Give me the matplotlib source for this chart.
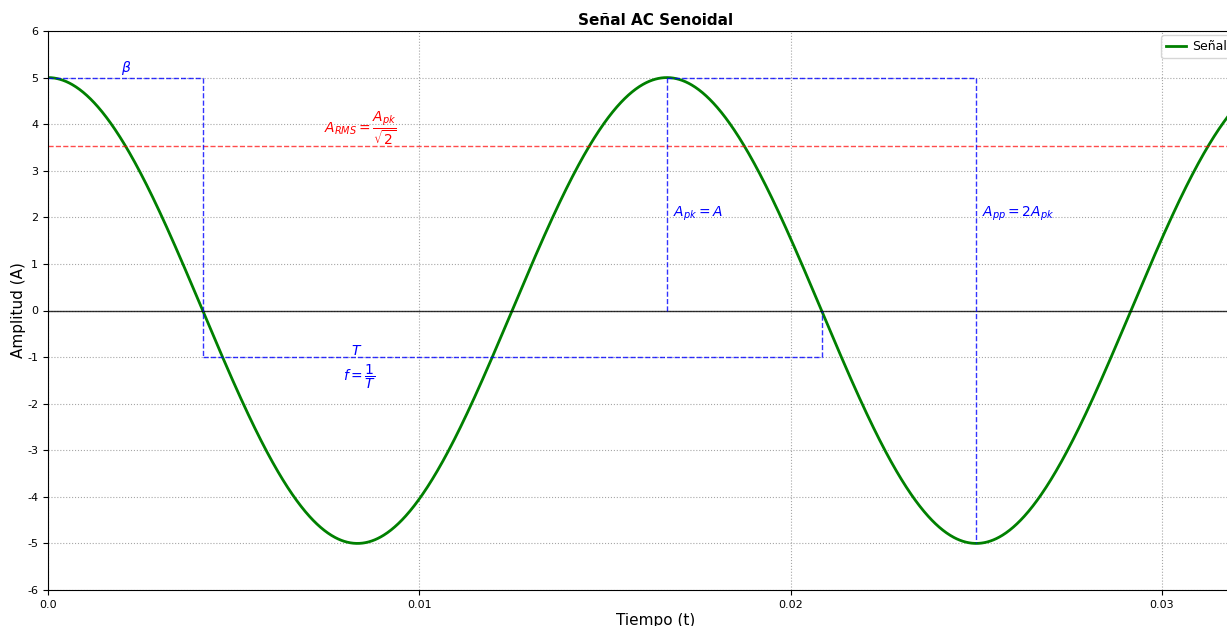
import numpy as np
import matplotlib.pyplot as plt

# Parametros de la senal
amplitud = 5.0          # A_pk
frecuencia = 60.0       # Hz -> T = 1/60 s
t_fin = 0.03275

x_ticks = [0.0, 0.01, 0.02, 0.03]
x_tick_labels = ['0.0', '0.01', '0.02', '0.03']
y_ticks = list(range(-6, 7))
y_tick_labels = [str(v) for v in y_ticks]

periodo = 1 / frecuencia
a_rms = amplitud / np.sqrt(2)

t = np.linspace(0, t_fin, 2000)
senal = amplitud * np.cos(2 * np.pi * frecuencia * t)

fig = plt.figure(figsize=(12.27, 6.26), dpi=100)
ancho_px = t_fin * 37130
ax = fig.add_axes([48 / 1227, 1 - 590 / 626, ancho_px / 1227, 559 / 626])

ax.plot(t, senal, color='green', linewidth=2, label='Señal')
ax.axhline(0, color='black', linewidth=1, alpha=0.8)
ax.axhline(a_rms, color='red', linestyle='--', linewidth=1, alpha=0.7)

# Lineas de referencia (beta, periodo, pico, pico a pico)
t_beta = periodo / 4
estilo = dict(color='blue', linestyle='--', linewidth=1, alpha=0.8)
ax.plot([0, t_beta], [amplitud, amplitud], **estilo)
ax.plot([t_beta, t_beta], [amplitud, -1], **estilo)
ax.plot([t_beta, t_beta + periodo], [-1, -1], **estilo)
ax.plot([t_beta + periodo, t_beta + periodo], [-1, 0], **estilo)
ax.plot([periodo, periodo], [0, amplitud], **estilo)
ax.plot([periodo, 1.5 * periodo], [amplitud, amplitud], **estilo)
ax.plot([1.5 * periodo, 1.5 * periodo], [amplitud, -amplitud], **estilo)

ax.text(0.0021, 5.2, r'$\beta$', color='blue', fontsize=10, ha='center', va='center')
ax.text(0.00744, 3.92, r'$A_{RMS} = \dfrac{A_{pk}}{\sqrt{2}}$', color='red', fontsize=10, va='center')
ax.text(0.00832, -0.86, r'$T$', color='blue', fontsize=10, ha='center', va='center')
ax.text(0.00795, -1.43, r'$f = \dfrac{1}{T}$', color='blue', fontsize=10, va='center')
ax.text(0.01682, 2.07, r'$A_{pk} = A$', color='blue', fontsize=10, va='center')
ax.text(0.02516, 2.07, r'$A_{pp} = 2A_{pk}$', color='blue', fontsize=10, va='center')

ax.set_xlim(0, t_fin)
ax.set_ylim(-6, 6)
ax.set_xticks(x_ticks)
ax.set_xticklabels(x_tick_labels, fontsize=8)
ax.set_yticks(y_ticks)
ax.set_yticklabels(y_tick_labels, fontsize=8)
ax.grid(True, linestyle=':', color='gray', alpha=0.7)

ax.set_title('Señal AC Senoidal', fontsize=11, fontweight='bold', pad=4)
ax.set_xlabel('Tiempo (t)', fontsize=11, labelpad=2)
ax.set_ylabel('Amplitud (A)', fontsize=11, labelpad=0.5)
ax.legend(loc='upper left', fontsize=9, bbox_to_anchor=(1161 / 1227, 1 - 35 / 626),
          bbox_transform=fig.transFigure, borderaxespad=0,
          handlelength=1.6, handletextpad=0.5)

fig.savefig('out.png', dpi=100)
